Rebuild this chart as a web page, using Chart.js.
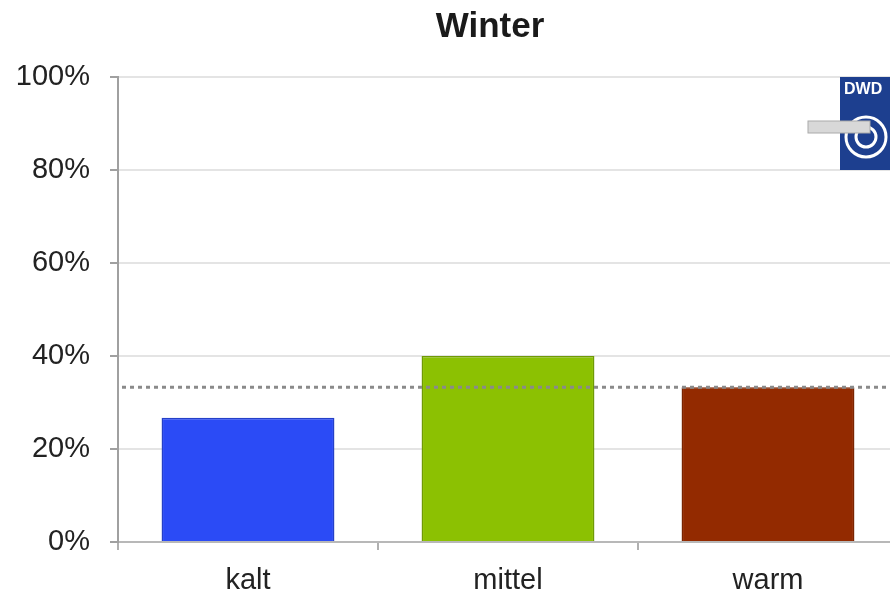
<!DOCTYPE html>
<html>
<head>
<meta charset="utf-8">
<script src="https://cdn.jsdelivr.net/npm/chart.js@4"></script>
<style>
html,body{margin:0;padding:0;overflow:hidden;background:#fff;}
#wrap{width:980px;height:596px;}
</style>
</head>
<body>
<div id="wrap"><canvas id="c" width="980" height="596"></canvas></div>
<script>
const categories = ['kalt', 'mittel', 'warm'];
const values = [26.7, 40.0, 33.3];
const barColors = ['#2b4bf6', '#8cc102', '#932a00'];
const borderColors = ['#2540c8', '#6f9a05', '#7a2400'];
const referenceLevel = 33.3;
const yTicks = [0, 20, 40, 60, 80, 100];

const refLine = {
  id: 'refLine',
  afterDatasetsDraw(chart) {
    const {ctx, chartArea, scales} = chart;
    const y = scales.y.getPixelForValue(referenceLevel);
    ctx.save();
    ctx.strokeStyle = '#8a8a8a';
    ctx.lineWidth = 3;
    ctx.setLineDash([4, 4]);
    ctx.beginPath();
    ctx.moveTo(chartArea.left + 4, y);
    ctx.lineTo(chartArea.right, y);
    ctx.stroke();
    ctx.restore();
  }
};

const logo = {
  id: 'logo',
  afterDraw(chart) {
    const {ctx, scales} = chart;
    const top = scales.y.getPixelForValue(100);
    const bottom = scales.y.getPixelForValue(80);
    const x = 840;
    ctx.save();
    ctx.fillStyle = '#1d3f8f';
    ctx.fillRect(x, top, 60, bottom - top);
    ctx.fillStyle = '#ffffff';
    ctx.font = 'bold 16px "Liberation Sans", Arial, sans-serif';
    ctx.textBaseline = 'top';
    ctx.fillText('DWD', x + 4, top + 5);
    ctx.strokeStyle = '#ffffff';
    ctx.lineWidth = 3;
    ctx.beginPath();
    ctx.arc(x + 26, top + 60, 20, 0, Math.PI * 2);
    ctx.stroke();
    ctx.beginPath();
    ctx.arc(x + 26, top + 60, 10, 0, Math.PI * 2);
    ctx.stroke();
    ctx.fillStyle = '#d8d8d8';
    ctx.strokeStyle = '#aaaaaa';
    ctx.lineWidth = 1;
    ctx.fillRect(808, top + 44, 62, 12);
    ctx.strokeRect(808, top + 44, 62, 12);
    ctx.restore();
  }
};

new Chart(document.getElementById('c'), {
  type: 'bar',
  data: {
    labels: categories,
    datasets: [{
      data: values,
      backgroundColor: barColors,
      borderColor: borderColors,
      borderWidth: 1.5,
      categoryPercentage: 0.665,
      barPercentage: 1.0
    }]
  },
  options: {
    responsive: false,
    animation: false,
    layout: {padding: 0},
    plugins: {
      legend: {display: false},
      tooltip: {enabled: false},
      title: {
        display: true,
        text: 'Winter',
        color: '#1a1a1a',
        font: {family: '"Liberation Sans", Arial, sans-serif', size: 35, weight: 'bold'},
        padding: {top: 6, bottom: 29}
      }
    },
    scales: {
      x: {
        grid: {display: true, drawOnChartArea: false, drawTicks: true, tickLength: 8, color: '#b0b0b0', lineWidth: 2},
        border: {display: true, color: '#b8b8b8', width: 2},
        ticks: {color: '#222', font: {family: '"Liberation Sans", Arial, sans-serif', size: 29}, padding: 14},
        afterFit(scale) { scale.height = 54; }
      },
      y: {
        min: 0,
        max: 100,
        afterBuildTicks(scale) { scale.ticks = yTicks.map(v => ({value: v})); },
        grid: {color: '#e4e4e4', lineWidth: 2, tickLength: 8, tickColor: '#a0a0a0'},
        border: {display: true, color: '#a0a0a0', width: 2},
        ticks: {
          color: '#222',
          font: {family: '"Liberation Sans", Arial, sans-serif', size: 29},
          padding: 20,
          callback: v => v + '%'
        },
        afterFit(scale) { scale.width = 118; }
      },
      yRight: {
        position: 'right',
        min: 0,
        max: 100,
        grid: {display: false, drawTicks: false},
        border: {display: false},
        ticks: {display: false},
        afterFit(scale) { scale.width = 82; }
      }
    }
  },
  plugins: [refLine, logo]
});
</script>
</body>
</html>
